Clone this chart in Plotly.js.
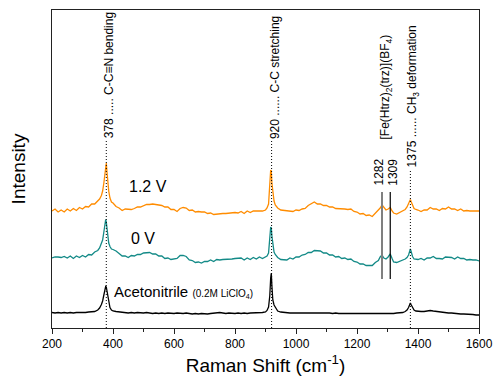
<!DOCTYPE html>
<html>
<head>
<meta charset="utf-8">
<script src="https://cdn.plot.ly/plotly-3.0.1.min.js"></script>
<style>html,body{margin:0;padding:0;background:#fff;}#chart{width:493px;height:379px;}</style>
</head>
<body>
<div id="chart"></div>
<script>
// Raman shift (cm-1), shared by all three spectra
const ramanShift = [
200,210,220,230,240,250,260,270,280,290,300,310,320,330,340,350,
356,362,366,370,373,376,378,380,383,386,390,395,
400,410,420,430,440,450,460,470,480,490,500,510,520,530,540,550,560,570,580,590,
600,610,620,630,640,650,660,670,680,690,700,710,720,730,740,750,760,770,780,790,
800,810,820,830,840,850,860,870,880,890,900,
905,910,914,917,919,921,924,928,932,
940,950,960,970,980,990,1000,1010,1020,1030,1040,1050,1060,1070,1080,1090,
1100,1110,1120,1130,1140,1150,1160,1170,1180,1190,1200,1210,1220,1230,1240,1250,1260,1270,
1276,1282,1288,1295,1302,1309,1315,
1320,1330,1340,1350,
1358,1364,1369,1372,1375,1378,1382,1387,1393,
1400,1410,1420,1430,1440,1450,1460,1470,1480,1490,1500,1510,1520,1530,1540,1550,1560,1570,1580,1590,1600
];

// Intensity (a.u., stacked offsets as in the figure)
const intensity12V = [
117,119,116,118,116,119,117,119.5,117.5,120.5,119,121.5,121,124,124,127.5,
129,132.5,137,145,154,163,165,157,146,137,130,126,
125,121.5,120,117.5,119,118.5,118.5,119.5,121,121,122.5,123.5,123.5,124,123.5,123,122.5,121,121,118.5,
118.5,116.5,119.5,120.5,120,117.5,118,116,116.5,116,116,114.5,115,113.5,114,114,114.5,114.5,115,115,
115.5,115,116.5,114.5,117,115.5,117,117,117,117,118,
120,124,140,158,157,145,134,127,123,
120,118,117.5,117,117,116.5,118,117.5,119,119.5,122.5,124,126,124,124,122.5,
122.5,121,121,119.5,119.5,119,119,118.5,119,116.5,116,114,114.5,112.5,113,111.5,114.5,117.5,
120,123,120.5,118,119,120.5,117,
115,114,115.5,117,
118.5,121,124,127,128.5,126,122,119.5,118.5,
118,116.5,118,118,120.5,119,119,117.5,119.5,119,121,119,119,117.5,119,117,117.5,117,117,116.5,117
];

const intensity0V = [
70,71,71,70.5,71.5,70,72,69.5,72,70.5,72.5,71,73.5,73,76,77.5,
80,84,88,96,103,108.5,106,100,92,85,81.5,79,
78.5,77,74.5,72,72,70.5,72.5,72,73.5,73.5,75,75,75.5,74,74,72,72,69.5,70,68.5,
69,69.5,72.5,72.5,71.5,68,67.5,65.5,66,65,66.5,66.5,68,66.5,68.5,68,68.5,68.5,69,69,
69.5,69.5,70,68,70,68.5,70.5,69,71,69.5,71,
72,75,88,101,100,92,83,76,73.5,
70.5,68.5,68.5,68,70,69,71,71,73,73.5,75.5,75.5,77.5,77,77,75,
75,73,73,71,71.5,69.5,70,68.5,69,66.5,66,64,64,62.5,62.5,62.5,65.5,67.5,
71,73,70,69,71,74,69.5,
66,65.5,66.5,68,
69,70.5,73,76,79,76,71.5,69,68.5,
68.5,69.5,68,70,70,71.5,69.5,69.5,69,71,70.5,70.5,69,71,69.5,69.5,68,68.5,68,68,67
];

const intensityACN = [
15.5,15,15.5,15,15.5,15,15.5,15,15.5,15.5,15,15.5,16,16,16.5,18,
20,23.5,27,33,38,41.5,41,37.5,31,25,20.5,18,
17,16.5,16,15.5,15.5,15,15.5,15,15.5,15,15,15.5,15,14.5,15,14.5,15,14.5,15,14.5,
14.5,15,14.5,14.5,15,14.5,14,14.5,14,14.5,14,14,14.5,15,15,15.5,15,14.5,15,14.5,
14.5,15,14.5,15,14.5,15,15,15.5,15,15.5,16,
17.5,21,32,50,55,42,28,23,20.5,
17,16,15.5,15,15,15,15,15,15.5,15,15.5,15.5,15.5,15.5,15,15,
15,15,14.5,15,14.5,14.5,14.5,14.5,14.5,14,14,14,14,14,14,14,14.5,14.5,
14.5,14.5,14.5,14.5,14.5,14.5,14.5,
14.5,15,15,15.5,
16.5,18,20.5,23,25,23,20,18,17,
16.5,16.5,16.5,17,17.5,17,16.5,16,15.5,15.5,15,15,14.5,14.5,14,14,14,13.5,13.5,13,13
];

// Peak markers
const peakPositions = [378, 920, 1375];
const peakLabels = ['378 ..... C-C\u2261N bending', '920 ...... C-C stretching', '1375 ...... CH<sub>3</sub> deformation'];
const complexPeaks = [1282, 1309];
const complexLabels = ['1282', '1309'];
const complexName = '[Fe(Htrz)<sub>2</sub>(trz)](BF<sub>4</sub>)';
const seriesNames = ['1.2 V', '0 V', 'Acetonitrile <span style="font-size:10px">(0.2M LiClO<sub>4</sub>)</span>'];
const xTitle = 'Raman Shift (cm<sup>-1</sup>)';
const yTitle = 'Intensity';

const FONT = 'Liberation Sans, Arial, sans-serif';
const colors = ['#FF8C00', '#138A87', '#000000'];

const traces = [intensity12V, intensity0V, intensityACN].map((y, i) => ({
  x: ramanShift, y: y, type: 'scatter', mode: 'lines',
  line: {color: colors[i], width: 1.3}, hoverinfo: 'skip', showlegend: false
}));

const dottedTops = [188, 187, 157];
const shapes = [];
peakPositions.forEach((p, i) => shapes.push({
  type: 'line', xref: 'x', yref: 'y', x0: p, x1: p, y0: 0, y1: dottedTops[i],
  line: {color: '#000', width: 1, dash: '1px,2px'}
}));
shapes.push({type: 'line', xref: 'x', yref: 'y', x0: complexPeaks[0], x1: complexPeaks[0], y0: 49, y1: 136,
  line: {color: '#808080', width: 2}});
shapes.push({type: 'line', xref: 'x', yref: 'y', x0: complexPeaks[1], x1: complexPeaks[1], y0: 49, y1: 136,
  line: {color: '#000', width: 1.2}});

const annotations = [];
const labelBottoms = [188, 187, 159];
peakPositions.forEach((p, i) => annotations.push({
  x: p, y: labelBottoms[i], xref: 'x', yref: 'y', text: peakLabels[i], textangle: -90,
  showarrow: false, xanchor: 'center', yanchor: 'bottom', xshift: 3,
  font: {family: FONT, size: 12, color: '#000'}
}));
complexPeaks.forEach((p, i) => annotations.push({
  x: p, y: 140, xref: 'x', yref: 'y', text: complexLabels[i], textangle: -90,
  showarrow: false, xanchor: 'center', yanchor: 'bottom', xshift: i === 0 ? -4 : 2,
  font: {family: FONT, size: 12, color: '#000'}
}));
annotations.push({
  x: 1295, y: 187, xref: 'x', yref: 'y', text: complexName, textangle: -90,
  showarrow: false, xanchor: 'center', yanchor: 'bottom',
  font: {family: FONT, size: 12, color: '#000'}
});
annotations.push({x: 515, y: 142, xref: 'x', yref: 'y', text: seriesNames[0], showarrow: false,
  xanchor: 'center', yanchor: 'middle', font: {family: FONT, size: 16, color: '#000'}});
annotations.push({x: 498, y: 90, xref: 'x', yref: 'y', text: seriesNames[1], showarrow: false,
  xanchor: 'center', yanchor: 'middle', font: {family: FONT, size: 16, color: '#000'}});
annotations.push({x: 396, y: 37, xref: 'x', yref: 'y', text: seriesNames[2], showarrow: false,
  xanchor: 'left', yanchor: 'middle', font: {family: FONT, size: 15, color: '#000'}});

const layout = {
  width: 493, height: 379,
  margin: {l: 52, r: 14, t: 10, b: 51, pad: 0},
  paper_bgcolor: '#fff', plot_bgcolor: '#fff',
  font: {family: FONT, size: 12, color: '#000'},
  xaxis: {
    range: [200, 1600], showgrid: false, zeroline: false,
    showline: true, mirror: true, linecolor: '#222', linewidth: 1,
    ticks: 'outside', tickmode: 'linear', tick0: 200, dtick: 200, ticklen: 5, tickwidth: 1, tickcolor: '#222',
    minor: {ticks: 'outside', dtick: 100, ticklen: 3, tickwidth: 1, tickcolor: '#222', showgrid: false},
    tickfont: {family: FONT, size: 12, color: '#000'},
    title: {text: xTitle, font: {family: FONT, size: 19, color: '#000'}, standoff: 8}
  },
  yaxis: {
    range: [0, 318], showgrid: false, zeroline: false,
    showline: true, mirror: true, linecolor: '#222', linewidth: 1,
    ticks: '', showticklabels: false,
    title: {text: yTitle, font: {family: FONT, size: 19, color: '#000'}, standoff: 20}
  },
  shapes: shapes,
  annotations: annotations
};

Plotly.newPlot('chart', traces, layout, {displayModeBar: false, staticPlot: true});
</script>
</body>
</html>
